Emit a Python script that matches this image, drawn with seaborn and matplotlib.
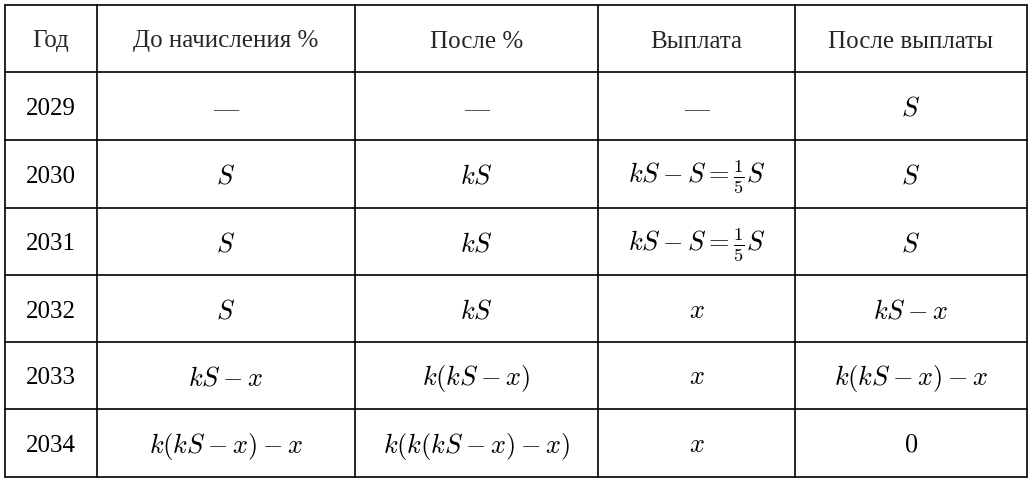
import matplotlib
matplotlib.use("Agg")
import matplotlib.pyplot as plt
import seaborn as sns

sns.set_style("white")
plt.rcParams['font.family'] = ['Liberation Serif', 'DejaVu Serif']
plt.rcParams['mathtext.fontset'] = 'cm'

# Table content
headers = ["Год", "До начисления %", "После %", "Выплата", "После выплаты"]
years = ["2029", "2030", "2031", "2032", "2033", "2034"]
before = ["—", "$S$", "$S$", "$S$", "$kS-x$", "$k(kS-x)-x$"]
after = ["—", "$kS$", "$kS$", "$kS$", "$k(kS-x)$", "$k(k(kS-x)-x)$"]
payment = ["—", r"$kS-S=\frac{1}{5}S$", r"$kS-S=\frac{1}{5}S$", "$x$", "$x$", "$x$"]
remaining = ["$S$", "$S$", "$S$", "$kS-x$", "$k(kS-x)-x$", "$0$"]

col_edges = [5, 97, 355, 598, 795, 1027]
row_edges = [5, 72, 140, 208, 275, 342, 409, 477]

fig = plt.figure(figsize=(10.33, 4.82), dpi=100)
ax = fig.add_axes([0, 0, 1, 1])
ax.set_xlim(0, 1033)
ax.set_ylim(482, 0)
ax.axis("off")

for x in col_edges:
    ax.plot([x, x], [row_edges[0], row_edges[-1]], color="black", lw=1.2)
for y in row_edges:
    ax.plot([col_edges[0], col_edges[-1]], [y, y], color="black", lw=1.2)

columns = [years, before, after, payment, remaining]
for j, h in enumerate(headers):
    cx = (col_edges[j] + col_edges[j + 1]) / 2
    cy = (row_edges[0] + row_edges[1]) / 2 + 3
    ax.text(cx, cy, h, ha="center", va="center", fontsize=18)
    for i, val in enumerate(columns[j]):
        cy = (row_edges[i + 1] + row_edges[i + 2]) / 2 + 3
        color = "#555555" if val == "—" else "black"
        ax.text(cx, cy, val, ha="center", va="center",
                fontsize=19 if val.startswith("$") else 18, color=color)

fig.savefig("out.png", dpi=100)
